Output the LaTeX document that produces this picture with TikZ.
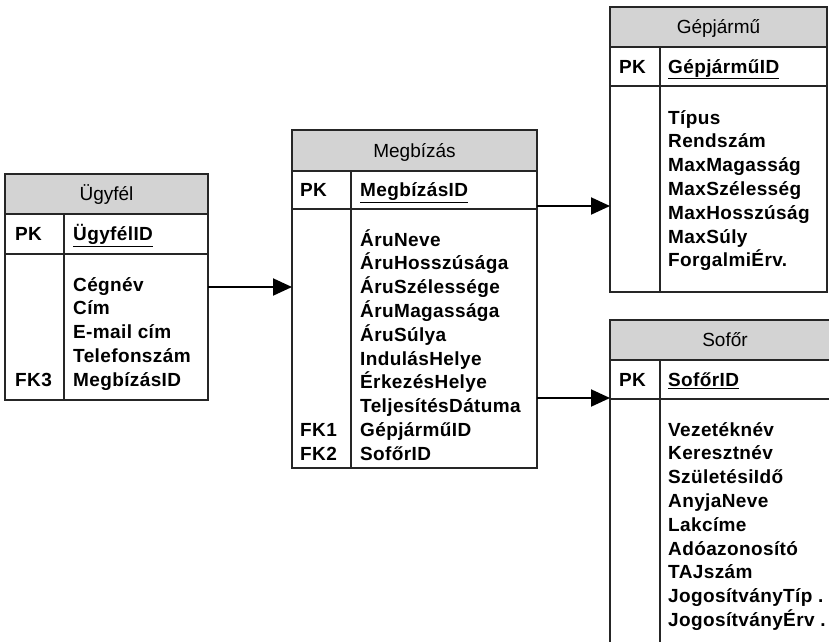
\documentclass[tikz,border=0pt]{standalone}
\usepackage{fontspec}
\setmainfont{Liberation Sans}
\usetikzlibrary{arrows.meta,positioning}
\definecolor{headgray}{RGB}{211,211,211}

\begin{document}
\begin{tikzpicture}[x=1pt,y=-1pt,>={Triangle[length=19pt,width=17pt]},
        frame/.style={draw=black!85,line width=1.2pt,anchor=north west,inner sep=0pt,outer sep=0pt},
        head/.style={frame,fill=headgray,text height=13.6pt,text depth=0pt,
                     font=\fontsize{19}{23}\selectfont},
        attr/.style={anchor=base west,inner sep=0pt,
                     font=\fontsize{19}{23}\selectfont\bfseries\addfontfeatures{LetterSpace=2}},
        divider/.style={draw=black!85,line width=1.2pt},
        fk/.style={->,line width=2pt}]
        % page area, the Sofőr table runs over the lower right edge
        \useasboundingbox (0,0) rectangle (829,641);
        \clip (0,0) rectangle (829,641);

        % Ügyfél
        \node[head,minimum width=203pt,minimum height=40pt] (ugyfel) at (5,174) {Ügyfél};
        \node[frame,minimum width=203pt,minimum height=40pt] (ugyfel-pk) at (ugyfel.south west) {};
        \node[frame,minimum width=203pt,minimum height=146pt] (ugyfel-body) at (ugyfel-pk.south west) {};
        \draw[divider] ([xshift=59pt]ugyfel-pk.north west) -- ([xshift=59pt]ugyfel-body.south west);
        \node[attr] (ugyfel-pkl) at ([xshift=10pt,yshift=-6.8pt]ugyfel-pk.west) {PK};
        \node[attr] (ugyfel-id) at ([xshift=68pt,yshift=-6.8pt]ugyfel-pk.west) {\underline{ÜgyfélID}};
        \foreach \i/\t in {0/Cégnév,1/Cím,2/E-mail cím,3/Telefonszám,4/MegbízásID}
                \node[attr] (ugyfel-a\i) at ([xshift=68pt,yshift={-37pt-23.8pt*\i}]ugyfel-body.north west) {\t};
        \node[attr] (ugyfel-fk3) at ([xshift=10pt,yshift={-37pt-23.8pt*4}]ugyfel-body.north west) {FK3};

        % Megbízás
        \node[head,minimum width=245pt,minimum height=41pt] (megbizas) at (292,130) {Megbízás};
        \node[frame,minimum width=245pt,minimum height=38pt] (megbizas-pk) at (megbizas.south west) {};
        \node[frame,minimum width=245pt,minimum height=259pt] (megbizas-body) at (megbizas-pk.south west) {};
        \draw[divider] ([xshift=59pt]megbizas-pk.north west) -- ([xshift=59pt]megbizas-body.south west);
        \node[attr] (megbizas-pkl) at ([xshift=8pt,yshift=-6.8pt]megbizas-pk.west) {PK};
        \node[attr] (megbizas-id) at ([xshift=68pt,yshift=-6.8pt]megbizas-pk.west) {\underline{MegbízásID}};
        \foreach \i/\t in {0/ÁruNeve,1/ÁruHosszúsága,2/ÁruSzélessége,3/ÁruMagassága,
                4/ÁruSúlya,5/IndulásHelye,6/ÉrkezésHelye,7/TeljesítésDátuma,
                8/GépjárműID,9/SofőrID}
                \node[attr] (megbizas-a\i) at ([xshift=68pt,yshift={-37pt-23.8pt*\i}]megbizas-body.north west) {\t};
        \node[attr] (megbizas-fk1) at ([xshift=8pt,yshift={-37pt-23.8pt*8}]megbizas-body.north west) {FK1};
        \node[attr] (megbizas-fk2) at ([xshift=8pt,yshift={-37pt-23.8pt*9}]megbizas-body.north west) {FK2};

        % Gépjármű
        \node[head,minimum width=217pt,minimum height=40pt] (gepjarmu) at (610,7) {Gépjármű};
        \node[frame,minimum width=217pt,minimum height=39pt] (gepjarmu-pk) at (gepjarmu.south west) {};
        \node[frame,minimum width=217pt,minimum height=206pt] (gepjarmu-body) at (gepjarmu-pk.south west) {};
        \draw[divider] ([xshift=50pt]gepjarmu-pk.north west) -- ([xshift=50pt]gepjarmu-body.south west);
        \node[attr] (gepjarmu-pkl) at ([xshift=9pt,yshift=-6.8pt]gepjarmu-pk.west) {PK};
        \node[attr] (gepjarmu-id) at ([xshift=58pt,yshift=-6.8pt]gepjarmu-pk.west) {\underline{GépjárműID}};
        \foreach \i/\t in {0/Típus,1/Rendszám,2/MaxMagasság,3/MaxSzélesség,
                4/MaxHosszúság,5/MaxSúly,6/ForgalmiÉrv.}
                \node[attr] (gepjarmu-a\i) at ([xshift=58pt,yshift={-38pt-23.8pt*\i}]gepjarmu-body.north west) {\t};

        % Sofőr
        \node[head,minimum width=230pt,minimum height=40pt] (sofor) at (610,320) {Sofőr};
        \node[frame,minimum width=230pt,minimum height=39pt] (sofor-pk) at (sofor.south west) {};
        \node[frame,minimum width=230pt,minimum height=260pt] (sofor-body) at (sofor-pk.south west) {};
        \draw[divider] ([xshift=50pt]sofor-pk.north west) -- ([xshift=50pt]sofor-body.south west);
        \node[attr] (sofor-pkl) at ([xshift=9pt,yshift=-6.8pt]sofor-pk.west) {PK};
        \node[attr] (sofor-id) at ([xshift=58pt,yshift=-6.8pt]sofor-pk.west) {\underline{SofőrID}};
        \foreach \i/\t in {0/Vezetéknév,1/Keresztnév,2/SzületésiIdő,3/AnyjaNeve,
                4/Lakcíme,5/Adóazonosító,6/TAJszám,7/JogosítványTíp .,8/JogosítványÉrv .}
                \node[attr] (sofor-a\i) at ([xshift=58pt,yshift={-37pt-23.8pt*\i}]sofor-body.north west) {\t};

        % foreign keys
        \coordinate (ugyfel-out) at ([yshift=-113pt]ugyfel.north east);
        \coordinate (gepjarmu-out) at ([yshift=-76pt]megbizas.north east);
        \coordinate (sofor-out) at ([yshift=-268pt]megbizas.north east);
        \draw[fk] (ugyfel-out) -- (ugyfel-out -| megbizas.west);
        \draw[fk] (gepjarmu-out) -- (gepjarmu-out -| gepjarmu.west);
        \draw[fk] (sofor-out) -- (sofor-out -| sofor.west);
\end{tikzpicture}
\end{document}
